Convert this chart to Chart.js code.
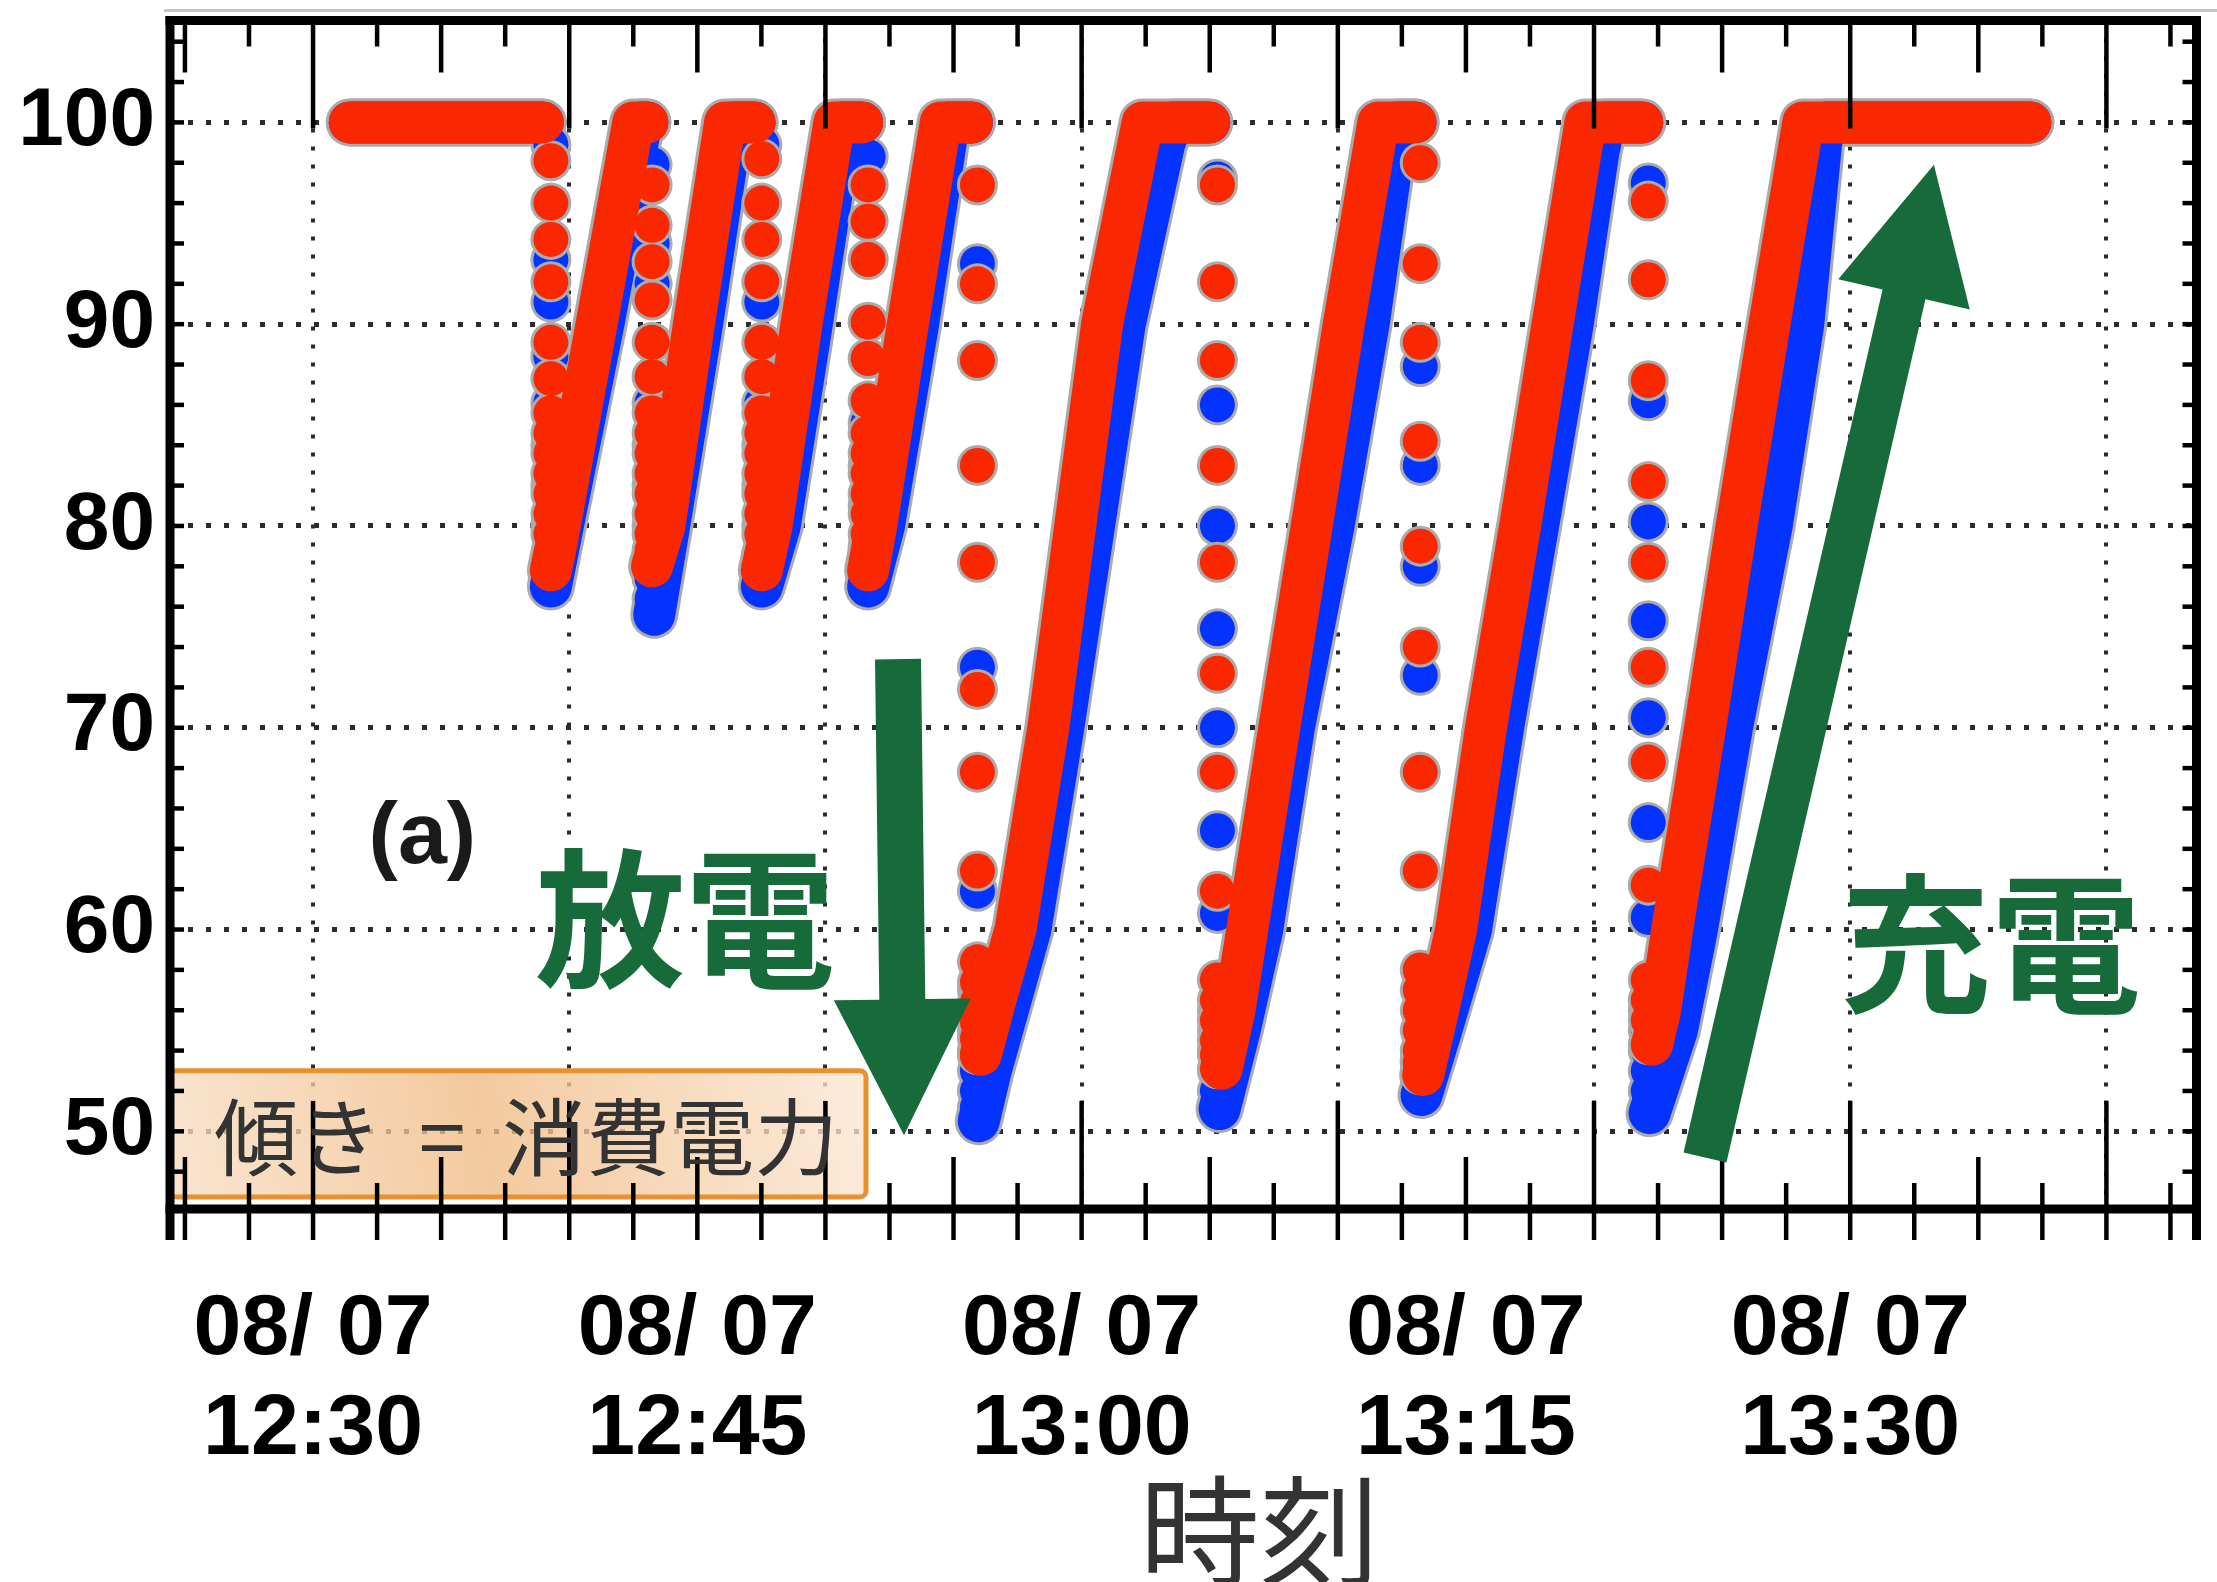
<!DOCTYPE html>
<html lang="ja">
<head>
<meta charset="utf-8">
<title>バッテリー残量の推移</title>
<script src="https://cdn.jsdelivr.net/npm/chart.js@4.4.1/dist/chart.umd.min.js"></script>
<style>
  html, body { margin: 0; padding: 0; background: #fff; }
  #wrap { position: relative; width: 2217px; height: 1582px; }
</style>
</head>
<body>
<div id="wrap"><canvas id="chart"></canvas></div>
<script>
// Battery level (%) of two units logged on 08/07, through repeated discharge / charge cycles.
const dateLabel = '08/ 07';
const timeTickLabels = ['12:30', '12:45', '13:00', '13:15', '13:30'];
const gridTimes = ['12:30', '12:40', '12:50', '13:00', '13:10', '13:20', '13:30', '13:40'];
const levelTicks = [50, 60, 70, 80, 90, 100];
const timeRange = ['12:24:25', '13:43:31'];
const levelRange = [46.15, 105.05];

// Charging runs (and full plateaus): [time, level %] per run.
const redCharge = [
  [['12:31:26', 100], ['12:38:58', 100]],
  [['12:39:17', 77.8], ['12:39:29', 79.0], ['12:41:04', 90.0], ['12:42:30', 100], ['12:43:03', 100]],
  [['12:43:14', 78.0], ['12:43:43', 80.0], ['12:44:52', 90.0], ['12:46:05', 100], ['12:47:14', 100]],
  [['12:47:31', 77.8], ['12:47:54', 80.0], ['12:49:04', 90.0], ['12:50:21', 100], ['12:51:26', 100]],
  [['12:51:40', 77.8], ['12:51:59', 80.0], ['12:53:13', 90.0], ['12:54:30', 100], ['12:55:43', 100]],
  [['12:56:04', 53.8], ['12:56:38', 56.5], ['12:57:25', 60.0], ['12:58:42', 70.0], ['12:59:45', 80.0], ['13:00:48', 90.0], ['13:02:23', 100], ['13:04:59', 100]],
  [['13:05:28', 53.1], ['13:05:58', 56.0], ['13:06:28', 60.0], ['13:07:43', 70.0], ['13:08:59', 80.0], ['13:10:14', 90.0], ['13:11:35', 100], ['13:13:02', 100]],
  [['13:13:20', 52.8], ['13:13:55', 56.0], ['13:14:37', 60.0], ['13:15:47', 70.0], ['13:17:07', 80.0], ['13:18:23', 90.0], ['13:19:40', 100], ['13:21:53', 100]],
  [['13:22:16', 54.3], ['13:22:35', 56.0], ['13:23:03', 60.0], ['13:24:20', 70.0], ['13:25:34', 80.0], ['13:26:51', 90.0], ['13:28:10', 100], ['13:37:02', 100]]
];
const blueCharge = [
  [['12:31:26', 100], ['12:38:58', 100]],
  [['12:39:17', 77.0], ['12:39:45', 80.0], ['12:41:20', 90.0], ['12:42:49', 100], ['12:43:03', 100]],
  [['12:43:19', 75.6], ['12:43:54', 80.0], ['12:45:11', 90.0], ['12:46:23', 100], ['12:47:14', 100]],
  [['12:47:31', 77.0], ['12:48:13', 80.0], ['12:49:28', 90.0], ['12:50:40', 100], ['12:51:26', 100]],
  [['12:51:40', 77.0], ['12:52:17', 80.0], ['12:53:37', 90.0], ['12:54:49', 100], ['12:55:43', 100]],
  [['12:55:59', 50.5], ['12:56:27', 53.0], ['12:58:00', 60.0], ['12:59:17', 70.0], ['13:00:29', 80.0], ['13:01:41', 90.0], ['13:03:14', 99.0], ['13:03:33', 100], ['13:04:59', 100]],
  [['13:05:23', 51.1], ['13:06:10', 55.0], ['13:07:03', 60.0], ['13:08:17', 70.0], ['13:09:50', 80.0], ['13:11:12', 90.0], ['13:12:10', 98.5], ['13:12:22', 100], ['13:13:02', 100]],
  [['13:13:16', 51.8], ['13:14:02', 55.0], ['13:15:12', 60.0], ['13:16:27', 70.0], ['13:17:49', 80.0], ['13:19:10', 90.0], ['13:20:10', 98.5], ['13:20:25', 100], ['13:21:53', 100]],
  [['13:22:10', 50.9], ['13:23:14', 55.0], ['13:24:01', 60.0], ['13:25:23', 70.0], ['13:26:56', 80.0], ['13:28:10', 90.0], ['13:28:52', 99.0], ['13:29:04', 100], ['13:37:02', 100]]
];

// Discharge bursts: every reading of a burst carries the same timestamp.
const dischargeTimes = ['12:39:17', '12:43:14', '12:47:31', '12:51:40', '12:55:56', '13:05:18', '13:13:13', '13:22:07'];
const redDischarge = [
  [98.1, 96.0, 94.2, 92.1, 89.1, 87.3, 85.6, 84.6, 83.6, 82.6, 81.6, 80.6, 79.6, 78.6, 77.8],
  [96.9, 94.9, 93.1, 91.2, 89.1, 87.4, 85.6, 84.6, 83.6, 82.6, 81.6, 80.6, 79.6, 78.8, 78.0],
  [98.2, 96.0, 94.2, 92.1, 89.1, 87.4, 85.6, 84.6, 83.6, 82.6, 81.6, 80.6, 79.6, 78.6, 77.8],
  [96.9, 95.1, 93.2, 90.1, 88.3, 86.2, 84.6, 83.6, 82.6, 81.6, 80.6, 79.6, 78.6, 77.8],
  [96.9, 92.0, 88.2, 83.0, 78.2, 71.9, 67.8, 62.9, 58.4, 57.4, 56.4, 55.4, 54.6, 53.8],
  [96.9, 92.1, 88.2, 83.0, 78.2, 72.7, 67.8, 61.9, 57.5, 56.5, 55.5, 54.5, 53.8, 53.1],
  [98.0, 93.0, 89.1, 84.2, 79.0, 74.0, 67.8, 62.9, 58.0, 57.0, 56.0, 55.0, 54.0, 53.4, 52.8],
  [96.1, 92.2, 87.2, 82.2, 78.2, 73.0, 68.3, 62.2, 57.5, 56.5, 55.5, 54.3]
];
const blueDischarge = [
  [98.9, 93.2, 91.1, 88.4, 86.1, 84.0, 82.0, 80.0, 78.2, 77.0],
  [97.9, 94.0, 92.0, 86.1, 84.0, 82.0, 80.0, 78.4, 77.4, 76.4, 75.6],
  [98.9, 91.1, 86.1, 84.0, 82.0, 80.0, 78.2, 77.0],
  [98.3, 85.1, 83.0, 81.0, 79.0, 77.0],
  [93.0, 73.0, 61.9, 57.0, 56.0, 55.0, 54.0, 53.0, 52.0, 51.2, 50.5],
  [97.2, 86.0, 80.0, 74.9, 70.0, 64.9, 60.8, 56.0, 55.0, 54.0, 53.0, 52.0, 51.1],
  [87.9, 83.0, 78.0, 72.6, 53.5, 52.6, 51.8],
  [97.0, 86.2, 80.2, 75.3, 70.5, 65.3, 60.6, 56.0, 55.0, 54.0, 53.0, 52.0, 50.9]
];

// 'HH:MM[:SS]' -> minutes since midnight
function toMin(s) {
  const p = s.split(':').map(Number);
  return p[0] * 60 + p[1] + (p[2] || 0) / 60;
}
function runPoints(runs) {
  const out = [];
  runs.forEach(run => {
    run.forEach(([t, v]) => out.push({ x: toMin(t), y: v }));
    out.push({ x: toMin(run[run.length - 1][0]), y: null }); // break between runs
  });
  return out;
}
function burstPoints(times, levels) {
  const out = [];
  times.forEach((t, i) => levels[i].forEach(v => out.push({ x: toMin(t), y: v })));
  return out;
}

const RED = '#FA2800';
const BLUE = '#0433FF';
const EDGE = '#ababab';
const GREEN = '#176B3A';
const LABEL_FONT = '"Liberation Sans", Arial, Helvetica, sans-serif';
const JP_FONT = '"Noto Sans CJK JP", "Noto Sans CJK SC", sans-serif';

const dotStyle = (color, radius, order) => ({
  backgroundColor: color, borderColor: color, borderWidth: 0,
  pointRadius: radius, pointHoverRadius: radius, showLine: false, order
});
const bandStyle = (color, width, order) => ({
  showLine: true, borderColor: color, backgroundColor: color, borderWidth: width,
  pointRadius: 0, pointHoverRadius: 0, borderCapStyle: 'round', borderJoinStyle: 'round',
  tension: 0, spanGaps: false, fill: false, order
});

// Annotation anchors in data space (time, level).
const notes = {
  panel: { text: '(a)', at: ['12:34:16', 64.5] },
  discharge: { text: '放電', at: ['12:44:31', 60.5] },
  charge: { text: '充電', at: ['13:35:29', 59.3] },
  downArrow: { from: ['12:52:50', 73.4], to: ['12:53:04', 49.8] },
  upArrow: { from: ['13:24:20', 48.7], to: ['13:33:16', 97.9] },
  slopeBox: { text: '傾き = 消費電力', right: '12:51:35', top: 53.0, bottom: 46.75 },
  xTitle: '時刻'
};

function drawArrow(ctx, x0, y0, x1, y1, shaft, head, headLen) {
  const L = Math.hypot(x1 - x0, y1 - y0);
  const ux = (x1 - x0) / L, uy = (y1 - y0) / L;
  const nx = -uy, ny = ux;
  const bx = x1 - ux * headLen, by = y1 - uy * headLen;
  ctx.beginPath();
  ctx.moveTo(x0 + nx * shaft / 2, y0 + ny * shaft / 2);
  ctx.lineTo(bx + nx * shaft / 2, by + ny * shaft / 2);
  ctx.lineTo(bx + nx * head / 2, by + ny * head / 2);
  ctx.lineTo(x1, y1);
  ctx.lineTo(bx - nx * head / 2, by - ny * head / 2);
  ctx.lineTo(bx - nx * shaft / 2, by - ny * shaft / 2);
  ctx.lineTo(x0 - nx * shaft / 2, y0 - ny * shaft / 2);
  ctx.closePath();
  ctx.fill();
}

// Frame with inward ticks, the slope note box, arrows and texts.
const framePlugin = {
  id: 'frameAndNotes',
  afterDatasetsDraw(chart) {
    const { ctx, chartArea: a, scales } = chart;
    const xs = scales.x, ys = scales.y;
    const px = t => xs.getPixelForValue(typeof t === 'string' ? toMin(t) : t);
    const py = v => ys.getPixelForValue(v);
    const seg = (x0, y0, x1, y1) => { ctx.beginPath(); ctx.moveTo(x0, y0); ctx.lineTo(x1, y1); ctx.stroke(); };
    ctx.save();

    // note box (translucent), behind the frame
    const b = notes.slopeBox;
    const bl = a.left, br = px(b.right), bt = py(b.top), bb = py(b.bottom);
    const g = ctx.createLinearGradient(bl, bb, br, bt);
    g.addColorStop(0, '#F8DEC3');
    g.addColorStop(0.45, '#F0BB84');
    g.addColorStop(1, '#FBE6D2');
    ctx.globalAlpha = 0.78;
    ctx.fillStyle = g;
    ctx.beginPath();
    ctx.roundRect(bl, bt, br - bl, bb - bt, 6);
    ctx.fill();
    ctx.globalAlpha = 1;
    ctx.strokeStyle = '#E8922F';
    ctx.lineWidth = 5;
    ctx.stroke();

    // top hairline
    ctx.strokeStyle = '#c6c6c6';
    ctx.lineWidth = 3;
    seg(a.left - 6, a.top - 10, chart.width, a.top - 10);

    // time ticks: every 2.5 min, longer at 5 and 10 min
    ctx.strokeStyle = '#000';
    ctx.lineWidth = 4.5;
    for (let m = Math.ceil(xs.min / 2.5) * 2.5; m <= xs.max; m += 2.5) {
      const x = px(m);
      const len = m % 10 === 0 ? 108 : (m % 5 === 0 ? 52 : 26);
      seg(x, a.top, x, a.top + len);
      seg(x, a.bottom, x, a.bottom - len);
      seg(x, a.bottom, x, a.bottom + 31);
    }
    // level ticks every 2 %
    for (let v = 48; v <= 104; v += 2) {
      const y = py(v);
      seg(a.left, y, a.left + 14, y);
      seg(a.right, y, a.right - 14, y);
    }
    // frame
    ctx.lineWidth = 9;
    seg(a.left - 4.5, a.top, a.right + 4.5, a.top);
    seg(a.left - 4.5, a.bottom, a.right + 4.5, a.bottom);
    seg(a.left, a.top - 4.5, a.left, a.bottom + 31);
    seg(a.right, a.top - 4.5, a.right, a.bottom + 31);

    // box text
    ctx.fillStyle = '#333';
    ctx.font = '84px ' + JP_FONT;
    ctx.textAlign = 'left';
    ctx.textBaseline = 'middle';
    if ('wordSpacing' in ctx) ctx.wordSpacing = '18px';
    ctx.fillText(b.text, bl + 44, (bt + bb) / 2 + 3);
    if ('wordSpacing' in ctx) ctx.wordSpacing = '0px';

    // panel label
    ctx.fillStyle = '#1a1a1a';
    ctx.font = 'bold 88px ' + LABEL_FONT;
    ctx.textAlign = 'center';
    ctx.fillText(notes.panel.text, px(notes.panel.at[0]), py(notes.panel.at[1]));

    // discharge / charge labels and arrows
    ctx.fillStyle = GREEN;
    ctx.font = 'bold 150px ' + JP_FONT;
    ctx.fillText(notes.discharge.text, px(notes.discharge.at[0]), py(notes.discharge.at[1]));
    ctx.fillText(notes.charge.text, px(notes.charge.at[0]), py(notes.charge.at[1]));
    const d = notes.downArrow, u = notes.upArrow;
    drawArrow(ctx, px(d.from[0]), py(d.from[1]), px(d.to[0]), py(d.to[1]), 46, 137, 136);
    drawArrow(ctx, px(u.from[0]), py(u.from[1]), px(u.to[0]), py(u.to[1]), 44, 135, 133);

    // axis title
    ctx.fillStyle = '#333';
    ctx.font = '120px ' + JP_FONT;
    ctx.fillText(notes.xTitle, a.left + (a.right - a.left) * 0.5376, a.bottom + 322);
    ctx.restore();
  }
};

const noPad = s => { s.paddingTop = 0; s.paddingBottom = 0; s.paddingLeft = 0; s.paddingRight = 0; };

const redBursts = burstPoints(dischargeTimes, redDischarge);
const blueBursts = burstPoints(dischargeTimes, blueDischarge);
const redRuns = runPoints(redCharge);
const blueRuns = runPoints(blueCharge);

new Chart(document.getElementById('chart'), {
  type: 'scatter',
  data: {
    datasets: [
      Object.assign({ label: '赤 放電', data: redBursts }, dotStyle(RED, 17.5, 0)),
      Object.assign({ label: '赤 充電', data: redRuns }, bandStyle(RED, 42, 1)),
      Object.assign({ label: '赤 放電 縁', data: redBursts }, dotStyle(EDGE, 20.5, 2)),
      Object.assign({ label: '青 放電', data: blueBursts }, dotStyle(BLUE, 17.5, 3)),
      Object.assign({ label: '青 充電', data: blueRuns }, bandStyle(BLUE, 42, 4)),
      Object.assign({ label: '青 放電 縁', data: blueBursts }, dotStyle(EDGE, 20.5, 5)),
      Object.assign({ label: '赤 充電 縁', data: redRuns }, bandStyle(EDGE, 48, 6)),
      Object.assign({ label: '青 充電 縁', data: blueRuns }, bandStyle(EDGE, 48, 7))
    ]
  },
  options: {
    responsive: true,
    maintainAspectRatio: false,
    devicePixelRatio: 1,
    animation: false,
    events: [],
    layout: { padding: { top: 17, right: 10, left: 0, bottom: 0 } },
    plugins: { legend: { display: false }, tooltip: { enabled: false } },
    scales: {
      x: {
        type: 'linear', position: 'bottom',
        min: toMin(timeRange[0]), max: toMin(timeRange[1]),
        afterBuildTicks: s => { s.ticks = timeTickLabels.map(t => ({ value: toMin(t) })); },
        afterFit: s => { s.height = 373; noPad(s); },
        grid: { display: false, drawTicks: false },
        border: { display: false },
        ticks: {
          autoSkip: false, maxRotation: 0, minRotation: 0, padding: 71,
          color: '#000', font: { family: LABEL_FONT, size: 86, weight: 'bold', lineHeight: 1.163 },
          callback: (v, i) => [dateLabel, timeTickLabels[i]]
        }
      },
      xGrid: {
        type: 'linear', position: 'bottom',
        min: toMin(timeRange[0]), max: toMin(timeRange[1]),
        afterBuildTicks: s => { s.ticks = gridTimes.map(t => ({ value: toMin(t) })); },
        afterFit: s => { s.height = 0; noPad(s); },
        ticks: { display: false },
        grid: { color: '#2b2b2b', lineWidth: 4, drawTicks: false },
        border: { display: false, dash: [4, 14] }
      },
      y: {
        type: 'linear', position: 'left',
        min: levelRange[0], max: levelRange[1],
        afterBuildTicks: s => { s.ticks = levelTicks.map(v => ({ value: v })); },
        afterFit: s => { s.width = 170; noPad(s); },
        grid: { color: '#2b2b2b', lineWidth: 5, drawTicks: false },
        border: { display: false, dash: [5, 13] },
        ticks: {
          padding: 15, color: '#000',
          font: { family: LABEL_FONT, size: 82, weight: 'bold', lineHeight: 1.1 },
          callback: v => String(v)
        }
      }
    }
  },
  plugins: [framePlugin]
});
</script>
</body>
</html>
